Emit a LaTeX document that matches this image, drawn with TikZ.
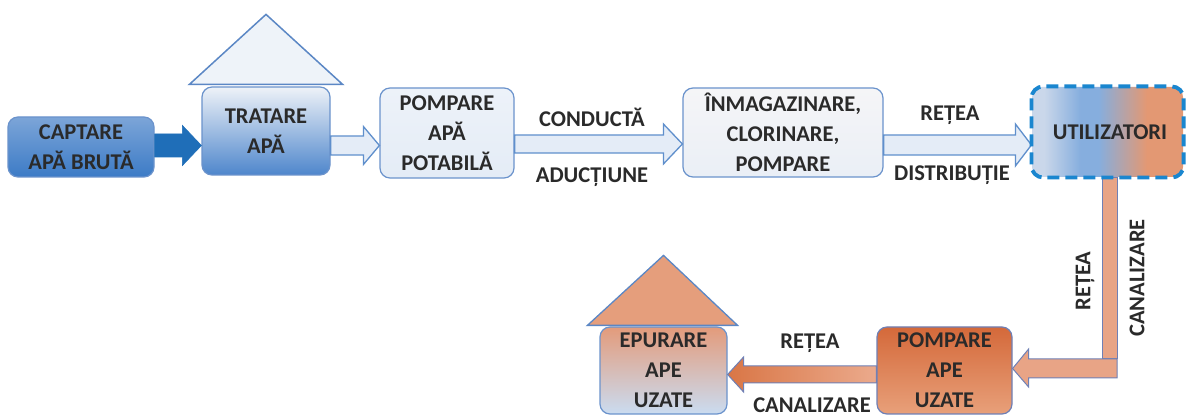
\documentclass[tikz,border=0pt]{standalone}
\usepackage{fontspec}
\setmainfont{Carlito}
\usetikzlibrary{calc}
\definecolor{txt}{HTML}{2A2A2A}
\definecolor{boxborder}{HTML}{6B93CC}
\definecolor{capTop}{HTML}{7CA5D8}
\definecolor{capBot}{HTML}{3C7BC6}
\definecolor{trTop}{HTML}{EEF2F8}
\definecolor{trMid}{HTML}{AFC7E6}
\definecolor{trBot}{HTML}{4E86CC}
\definecolor{papFill}{HTML}{EDF2F9}
\definecolor{papFill2}{HTML}{E4ECF6}
\definecolor{inmTop}{HTML}{F5F5F7}
\definecolor{inmMid}{HTML}{F3E8DA}
\definecolor{inmBot}{HTML}{EAEFF6}
\definecolor{utLeft}{HTML}{CAD7EA}
\definecolor{utMid}{HTML}{86AEDE}
\definecolor{utRight}{HTML}{E39873}
\definecolor{utDash}{HTML}{1A86CF}
\definecolor{darkArrow}{HTML}{1F6EB8}
\definecolor{hollowFill}{HTML}{E4ECF7}
\definecolor{hollowDraw}{HTML}{5F8FCC}
\definecolor{roofFill}{HTML}{EEF3F9}
\definecolor{roofDraw}{HTML}{5B87C5}
\definecolor{orFill}{HTML}{E8A486}
\definecolor{orDark}{HTML}{D97646}
\definecolor{orLight}{HTML}{EBAA8C}
\definecolor{orDraw}{HTML}{6F80B6}
\definecolor{puTop}{HTML}{D4693A}
\definecolor{puBot}{HTML}{E8A07A}
\definecolor{epTop}{HTML}{E39B7B}
\definecolor{epMid}{HTML}{DAC9CC}
\definecolor{epBot}{HTML}{CADCF1}
\definecolor{orRoof}{HTML}{E59E7C}
\pgfdeclarehorizontalshading{utshade}{100bp}{color(0bp)=(utLeft); color(25bp)=(utLeft);
  color(29bp)=(utLeft); color(41bp)=(utMid); color(47bp)=(utMid);
  color(63bp)=(utRight); color(75bp)=(utRight); color(100bp)=(utRight)}
\newcommand\flowarrow[6]{%
  \draw[#1] let \p1=(#2), \p2=(#3),
    \n2={\x2>\x1 ? \x2-#6 : \x2+#6} in
    (\x1,\y1+#4) -- ({\n2*1pt},\y1+#4) -- ({\n2*1pt},\y1+#5) -- (\x2,\y1)
    -- ({\n2*1pt},\y1-#5) -- ({\n2*1pt},\y1-#4) -- (\x1,\y1-#4) -- cycle;}
\tikzset{
  box/.style={rounded corners=10pt, draw=boxborder, line width=1.2pt,
    align=center, inner sep=0pt, text=txt,
    font=\fontsize{22.5}{30}\selectfont\bfseries},
  lbl/.style={inner sep=0pt, text=txt, font=\fontsize{22.5}{26}\selectfont\bfseries},
  darkarrow/.style={fill=darkArrow, draw=darkArrow, line width=0.6pt},
  hollowarrow/.style={fill=hollowFill, draw=hollowDraw, line width=1.3pt},
  orangearrow/.style={fill=orFill, draw=orDraw, line width=1pt},
  orangegrad/.style={left color=orDark, right color=orLight, draw=orDraw, line width=1pt},
  roofblue/.style={fill=roofFill, draw=roofDraw, line width=1.5pt, line join=miter},
  rooforange/.style={fill=orRoof, draw=roofDraw, line width=1.3pt, line join=miter},
}
\begin{document}
\begin{tikzpicture}[x=1pt,y=-1pt]
\useasboundingbox[fill=white] (0,0) rectangle (1189,419);
% nodes
\node[box, top color=capTop, bottom color=capBot, minimum width=146pt, minimum height=60pt]
  (cap) at (81,147) {CAPTARE\\APĂ BRUTĂ};
\node[box, top color=trTop, middle color=trMid, bottom color=trBot, minimum width=128pt, minimum height=88pt]
  (tr) at (266,131) {TRATARE\\APĂ};
\node[box, top color=papFill, bottom color=papFill2, minimum width=134pt, minimum height=90pt]
  (pap) at (447,133) {POMPARE\\APĂ\\POTABILĂ};
\node[box, top color=inmTop, middle color=inmMid, bottom color=inmBot, minimum width=200pt, minimum height=89pt]
  (inm) at (783,132.5) {ÎNMAGAZINARE,\\CLORINARE,\\POMPARE};
\node[box, shading=utshade, draw=none, minimum width=151pt, minimum height=90pt]
  (util) at (1107.5,132) {\hspace*{5pt}UTILIZATORI};
\node[box, top color=puTop, bottom color=puBot, draw=orDraw, minimum width=135pt, minimum height=87pt]
  (pu) at (944.5,370.5) {POMPARE\\APE\\UZATE};
\node[box, top color=epTop, middle color=epMid, bottom color=epBot, minimum width=127pt, minimum height=87pt]
  (ep) at (663.5,370.5) {EPURARE\\APE\\UZATE};
% roofs
\draw[roofblue] ($(tr.north west)+(-12,-2)$) -- ($(tr.north)+(0,-72)$) -- ($(tr.north east)+(12,-2)$) -- cycle;
\draw[rooforange] ($(ep.north west)+(-12,-1)$) -- ($(ep.north)+(0,-71)$) -- ($(ep.north east)+(10,-1)$) -- cycle;
% upper arrows
\flowarrow{darkarrow}{$(cap.east)+(0,-1.5)$}{tr.west}{11.5pt}{20pt}{19pt}
\flowarrow{hollowarrow}{$(tr.east)+(0,14.5)$}{pap.west}{9.5pt}{19pt}{16pt}
\flowarrow{hollowarrow}{$(pap.east)+(0,11)$}{inm.west}{9pt}{20pt}{19pt}
\flowarrow{hollowarrow}{$(inm.east)+(0,12.5)$}{util.west}{10pt}{21pt}{16pt}
% sewer arrows
\draw[orangearrow] let \p1=(util.south), \p2=(pu.east) in
  (\x1-5.5pt,\y1) rectangle (\x1+9.5pt,\y2+11.5pt);
\draw[orangearrow] let \p1=(util.south), \p2=(pu.east) in
  (\x1+9.5pt,\y2+11.5pt) -- (\x1+9.5pt,\y2-7.5pt) -- (\x2+16pt,\y2-7.5pt)
  -- (\x2+16pt,\y2-16.5pt) -- (\x2,\y2+2pt) -- (\x2+16pt,\y2+21.5pt)
  -- (\x2+16pt,\y2+11.5pt) -- cycle;
\flowarrow{orangegrad}{$(pu.west)+(0,4)$}{ep.east}{8.5pt}{17.5pt}{16pt}
% dashed border of users
\draw[utDash, line width=3.8pt, dash pattern=on 12pt off 6pt, rounded corners=12pt]
  (util.north west) rectangle (util.south east);
% labels
\node[lbl] (l1) at (592,117) {CONDUCTĂ};
\node[lbl] (l2) at (592,177) {ADUCȚIUNE};
\node[lbl] (l3) at (950,115) {REȚEA};
\node[lbl] (l4) at (952,175) {DISTRIBUȚIE};
\node[lbl, rotate=90] (l5) at (1085,281) {REȚEA};
\node[lbl, rotate=90] (l6) at (1137,278) {CANALIZARE};
\node[lbl] (l7) at (810,343) {REȚEA};
\node[lbl] (l8) at (812,405) {CANALIZARE};
\end{tikzpicture}
\end{document}
